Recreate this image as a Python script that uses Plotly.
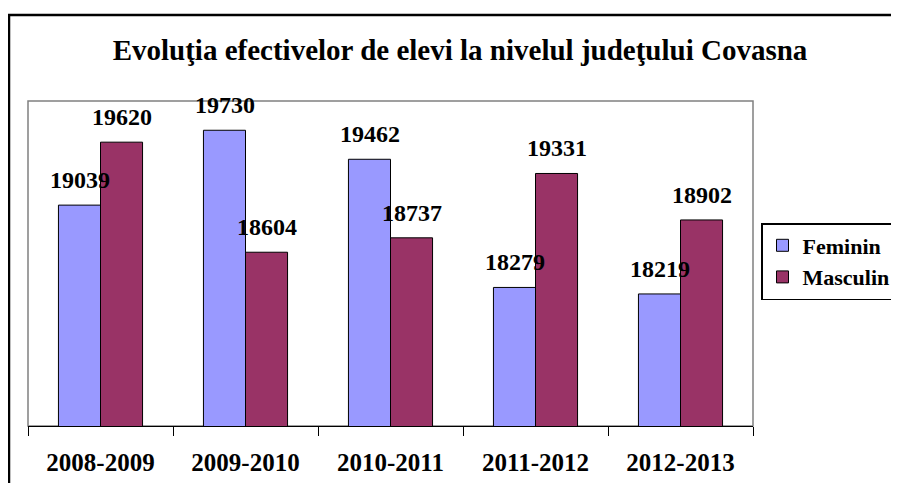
import plotly.graph_objects as go

categories = ["2008-2009", "2009-2010", "2010-2011", "2011-2012", "2012-2013"]
feminin = [19039, 19730, 19462, 18279, 18219]
masculin = [19620, 18604, 18737, 19331, 18902]
title_text = "Evoluţia efectivelor de elevi la nivelul judeţului Covasna"

FONT = "Liberation Serif, Times New Roman, serif"
OFF = 8  # page body margin in the browser
W, H = 899 - OFF, 495 - 2 * OFF - 4
ML, MT = 28 - OFF, 101 - OFF
MR = W - (753 - OFF)
MB = H - (426 - OFF)
PW, PH = W - ML - MR, H - MT - MB

fig = go.Figure()
fig.add_trace(go.Bar(name="<b>Feminin</b>", x=categories, y=feminin,
                     marker=dict(color="#9999FF", line=dict(color="black", width=1)),
                     legendgroup="f"))
fig.add_trace(go.Bar(name="<b>Masculin</b>", x=categories, y=masculin,
                     marker=dict(color="#993366", line=dict(color="black", width=1)),
                     legendgroup="m"))

annotations = []
for series, shift in ((feminin, -21), (masculin, 21)):
    for c, v in zip(categories, series):
        annotations.append(dict(x=c, y=v, xref="x", yref="y", text=f"<b>{v}</b>",
                                showarrow=False, xshift=shift, yshift=25,
                                yanchor="middle", xanchor="center",
                                font=dict(family=FONT, size=24, color="black")))

def px_x(p):
    return (p - OFF - ML) / PW

def px_y(p):
    return (H - MB - (p - OFF)) / PH

shapes = [
    dict(type="rect", xref="paper", yref="paper", x0=0, x1=1, y0=0, y1=1,
         line=dict(color="#808080", width=1.5), fillcolor="rgba(0,0,0,0)", layer="below"),
    dict(type="rect", xref="paper", yref="paper", x0=px_x(9), x1=px_x(960),
         y0=px_y(560), y1=px_y(15),
         line=dict(color="black", width=2.5), fillcolor="rgba(0,0,0,0)", layer="below"),
]

fig.update_layout(
    width=W, height=H,
    margin=dict(l=ML, r=MR, t=MT, b=MB, autoexpand=False),
    paper_bgcolor="white", plot_bgcolor="rgba(0,0,0,0)",
    barmode="group", bargap=0.42, bargroupgap=0,
    title=dict(text=f"<b>{title_text}</b>", x=(460 - OFF) / W, xanchor="center",
               y=1 - (50 - OFF) / H, yanchor="middle",
               font=dict(family=FONT, size=29, color="black")),
    xaxis=dict(type="category", tickson="boundaries", ticks="outside", ticklen=9,
               tickcolor="black", tickwidth=1, showline=True, linecolor="black",
               linewidth=1, showgrid=False, ticklabelstandoff=14,
               tickfont=dict(family=FONT, size=25, color="black"),
               tickprefix="<b>", ticksuffix="</b>"),
    yaxis=dict(range=[17000, 20000], visible=False, showgrid=False),
    legend=dict(x=px_x(761), y=px_y(223), xanchor="left", yanchor="top",
                bordercolor="black", borderwidth=1.5, bgcolor="white",
                font=dict(family=FONT, size=22, color="black"),
                tracegroupgap=8, traceorder="normal", itemwidth=30),
    annotations=annotations,
    shapes=shapes,
    showlegend=True,
)

fig.write_html("out.html")
